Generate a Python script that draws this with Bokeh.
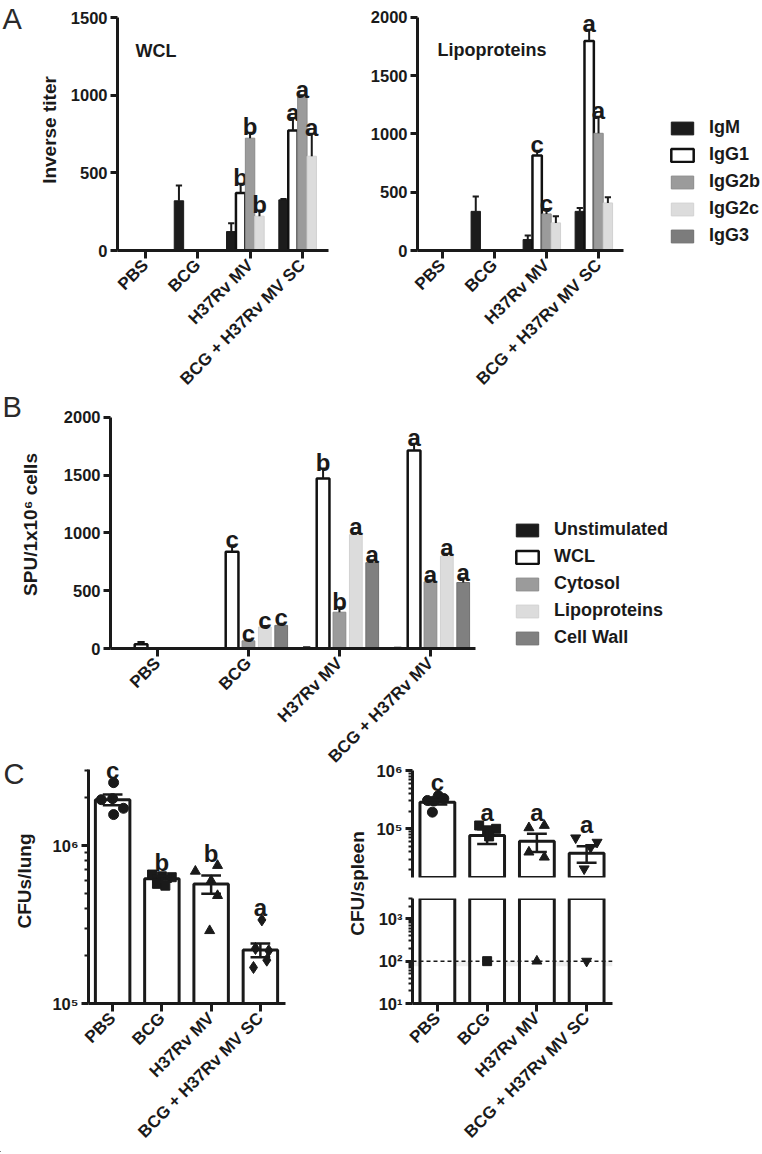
from math import pi, log10

from bokeh.core.properties import value
from bokeh.embed import file_html
from bokeh.layouts import column, row
from bokeh.models import (BoxAnnotation, ColumnDataSource, FixedTicker, Label,
                          Legend, LegendItem, Range1d, Span)
from bokeh.plotting import figure
from bokeh.resources import INLINE

# ------------------------------------------------------------------ data
# Panel A: antibody isotype titers
groups_a = ["PBS", "BCG", "H37Rv MV", "BCG + H37Rv MV SC"]
isotypes = ["IgM", "IgG1", "IgG2b", "IgG2c", "IgG3"]

wcl_igm = [0, 320, 122, 326]
wcl_igg1 = [0, 0, 370, 773]
wcl_igg2b = [0, 0, 723, 988]
wcl_igg2c = [0, 0, 221, 607]
wcl_igg3 = [0, 0, 0, 0]
wcl_igm_err = [0, 98, 54, 5]
wcl_igg1_err = [0, 0, 60, 80]
wcl_igg2b_err = [0, 0, 35, 11]
wcl_igg2c_err = [0, 0, 36, 144]
wcl_igg3_err = [0, 0, 0, 0]
wcl_igm_sig = ["", "", "", ""]
wcl_igg1_sig = ["", "", "b", "a"]
wcl_igg2b_sig = ["", "", "b", "a"]
wcl_igg2c_sig = ["", "", "b", "a"]
wcl_igg3_sig = ["", "", "", ""]

lipo_igm = [0, 336, 94, 336]
lipo_igg1 = [0, 0, 815, 1797]
lipo_igg2b = [0, 0, 314, 1006]
lipo_igg2c = [0, 0, 237, 408]
lipo_igg3 = [0, 0, 0, 0]
lipo_igm_err = [0, 128, 34, 29]
lipo_igg1_err = [0, 0, 42, 98]
lipo_igg2b_err = [0, 0, 42, 142]
lipo_igg2c_err = [0, 0, 56, 48]
lipo_igg3_err = [0, 0, 0, 0]
lipo_igm_sig = ["", "", "", ""]
lipo_igg1_sig = ["", "", "c", "a"]
lipo_igg2b_sig = ["", "", "c", "a"]
lipo_igg2c_sig = ["", "", "", ""]
lipo_igg3_sig = ["", "", "", ""]

# Panel B: ELISPOT
groups_b = ["PBS", "BCG", "H37Rv MV", "BCG + H37Rv MV"]
stimuli = ["Unstimulated", "WCL", "Cytosol", "Lipoproteins", "Cell Wall"]
spu_unstim = [0, 0, 8, 5]
spu_wcl = [37, 837, 1471, 1714]
spu_cytosol = [3, 66, 314, 577]
spu_lipo = [3, 186, 985, 800]
spu_cellwall = [3, 200, 743, 571]
spu_unstim_err = [0, 0, 2, 1]
spu_wcl_err = [20, 57, 86, 57]
spu_cytosol_err = [0, 11, 43, 14]
spu_lipo_err = [0, 8, 15, 20]
spu_cellwall_err = [0, 14, 20, 37]
spu_unstim_sig = ["", "", "", ""]
spu_wcl_sig = ["", "c", "b", "a"]
spu_cytosol_sig = ["", "c", "b", "a"]
spu_lipo_sig = ["", "c", "a", "a"]
spu_cellwall_sig = ["", "c", "a", "a"]

# Panel C: bacterial burden
groups_c = ["PBS", "BCG", "H37Rv MV", "BCG + H37Rv MV SC"]
lung_pbs = [2.5e6, 1.95e6, 1.98e6, 1.72e6, 1.57e6]
lung_bcg = [6.55e5, 6.38e5, 6.3e5, 5.72e5, 5.57e5]
lung_h37 = [6.87e5, 7.47e5, 6.0e5, 4.82e5, 2.89e5]
lung_sc = [3.38e5, 2.23e5, 2.16e5, 1.69e5, 1.88e5]
lung_mean = [1.95e6, 6.15e5, 5.71e5, 2.18e5]
lung_sem = [1.5e5, 2.5e4, 7.6e4, 2.2e4]
lung_sig = ["c", "b", "b", "a"]

spleen_pbs = [3.7e5, 3.3e5, 3.06e5, 3.0e5, 1.93e5]
spleen_bcg = [1.14e5, 9.4e4, 1.0e5, 7.4e4, 100]
spleen_h37 = [1.04e5, 1.14e5, 3.98e4, 3.26e4, 100]
spleen_sc = [7.0e4, 5.9e4, 4.8e4, 2.06e4, 100]
spleen_mean = [2.86e5, 7.67e4, 6.1e4, 3.82e4]
spleen_sem = [2.5e4, 2.2e4, 2.1e4, 1.2e4]
spleen_sig = ["c", "a", "a", "a"]
detection_limit = 100

# ------------------------------------------------------------------ layout / style
FONT = "Liberation Sans"
INK = "#1a1a1a"
PAGE_W, PAGE_H = 760, 1152

# horizontal spread of the dots inside each bar
lung_spread = [[0.02, -0.23, 0.0, 0.22, 0.02], [-0.2, 0.0, 0.2, -0.1, 0.07],
               [-0.32, 0.13, 0.0, 0.13, -0.03], [0.03, -0.1, 0.17, -0.14, 0.13]]
spleen_spread = [[0.02, 0.13, -0.2, -0.07, -0.1], [-0.16, 0.0, 0.18, 0.04, 0.0],
                 [-0.16, 0.15, -0.16, 0.15, 0.0], [-0.22, 0.21, 0.08, -0.05, 0.0]]
lung_markers = [("circle", 10), ("square", 9), ("triangle", 10), ("diamond", 12)]
spleen_markers = [("circle", 10), ("square", 9), ("triangle", 10), ("inverted_triangle", 10)]

iso_styles = [
    dict(fill_color="#1c1c1c", line_color="#1c1c1c", line_width=1),
    dict(fill_color="white", line_color="#111111", line_width=2.5),
    dict(fill_color="#9b9b9b", line_color="#8a8a8a", line_width=1),
    dict(fill_color="#dcdcdc", line_color="#d2d2d2", line_width=1),
    dict(fill_color="#7c7c7c", line_color="#6e6e6e", line_width=1),
]
stim_styles = [
    dict(fill_color="#1c1c1c", line_color="#1c1c1c", line_width=1),
    dict(fill_color="white", line_color="#111111", line_width=2.5),
    dict(fill_color="#9b9b9b", line_color="#8a8a8a", line_width=1),
    dict(fill_color="#dcdcdc", line_color="#d2d2d2", line_width=1),
    dict(fill_color="#808080", line_color="#707070", line_width=1),
]
offsets5 = [-0.36, -0.18, 0.0, 0.18, 0.36]
XLAB_SIZE = "17px"
SIG_SIZE = "24px"


def lin_range(lo, hi, px_lo, px_hi, frame_top, frame_bottom):
    s = (px_lo - px_hi) / (hi - lo)
    return (lo - (frame_bottom - px_lo) / s, lo + (px_lo - frame_top) / s)


def log_range(lo, hi, px_lo, px_hi, frame_top, frame_bottom):
    s = (px_lo - px_hi) / (log10(hi) - log10(lo))
    return (10 ** (log10(lo) - (frame_bottom - px_lo) / s),
            10 ** (log10(lo) + (px_lo - frame_top) / s))


def clean(p):
    p.outline_line_color = None
    p.xgrid.visible = False
    p.ygrid.visible = False
    p.background_fill_color = None
    p.border_fill_color = None


def make_fig(canvas, frame, xr, yr, y_log=False, x_axis=True):
    cx, cy, cw, ch = canvas
    fl, ft, fr, fb = frame
    p = figure(width=cw, height=ch, x_range=Range1d(*xr), y_range=Range1d(*yr),
               y_axis_type="log" if y_log else "linear",
               x_axis_location="below" if x_axis else None,
               min_border_left=fl - cx, min_border_right=cx + cw - fr,
               min_border_top=ft - cy, min_border_bottom=cy + ch - fb,
               output_backend="svg", toolbar_location=None)
    clean(p)
    for ax in p.axis:
        ax.axis_line_width = 3
        ax.axis_line_color = INK
        ax.major_tick_line_width = 3
        ax.major_tick_line_color = INK
        ax.major_tick_in = 0
        ax.major_tick_out = 7
        ax.minor_tick_in = 0
        ax.minor_tick_out = 4
        ax.minor_tick_line_width = 2
        ax.minor_tick_line_color = INK
        ax.major_label_text_font = FONT
        ax.major_label_text_font_style = "bold"
        ax.major_label_text_font_size = "16.5px"
        ax.major_label_text_color = INK
        ax.major_label_standoff = 3
        ax.axis_label_text_font = FONT
        ax.axis_label_text_font_style = "bold"
        ax.axis_label_text_font_size = "19px"
        ax.axis_label_text_color = INK
    return p


def set_x(p, labels):
    ax = p.xaxis[0]
    ax.ticker = FixedTicker(ticks=list(range(len(labels))), minor_ticks=[])
    ax.major_label_overrides = {i: lab for i, lab in enumerate(labels)}
    ax.major_label_orientation = pi / 4
    ax.major_tick_out = 8
    ax.major_label_standoff = 4
    ax.major_label_text_font_size = XLAB_SIZE


def set_y(p, ticks, bounds, minor=(), overrides=None, label=None, standoff=10):
    ax = p.yaxis[0]
    ax.ticker = FixedTicker(ticks=list(ticks), minor_ticks=list(minor))
    ax.bounds = bounds
    if overrides:
        ax.major_label_overrides = overrides
    if label:
        ax.axis_label = label
        ax.axis_label_standoff = standoff


def text_label(p, text, x, y, size, style="bold", baseline="alphabetic",
               align="left", angle=0.0, color=INK):
    p.add_layout(Label(x=x, y=y, x_units="screen", y_units="screen", text=text,
                       text_font=FONT, text_font_style=style, text_font_size=size,
                       text_baseline=baseline, text_align=align, angle=angle,
                       text_color=color))


def grouped_bars(p, series, errs, sigs, styles, width, cap):
    for k, (vals, er, sg, st) in enumerate(zip(series, errs, sigs, styles)):
        xs = [i + offsets5[k] for i in range(len(vals))]
        keep = [i for i, v in enumerate(vals) if v > 0]
        src = ColumnDataSource(dict(x=[xs[i] for i in keep], top=[vals[i] for i in keep]))
        p.vbar(x="x", top="top", bottom=0, width=width, source=src, **st)
        ek = [i for i in keep if er[i] > 0]
        xe = [xs[i] for i in ek]
        y0 = [vals[i] for i in ek]
        y1 = [vals[i] + er[i] for i in ek]
        p.segment(x0=xe, y0=y0, x1=xe, y1=y1, line_color=INK, line_width=2)
        p.segment(x0=[x - cap / 2 for x in xe], y0=y1, x1=[x + cap / 2 for x in xe], y1=y1,
                  line_color=INK, line_width=2)
        lk = [i for i in range(len(vals)) if sg[i]]
        if lk:
            p.text(x=[xs[i] for i in lk], y=[vals[i] + er[i] for i in lk],
                   text=[sg[i] for i in lk], text_align="center",
                   text_baseline="alphabetic", y_offset=-6, text_font=value(FONT),
                   text_font_style="bold", text_font_size=SIG_SIZE, text_color=INK)


def cfu_panel(p, points, spread, markers, mean, sem, sig, bottom, letter_gap):
    xs = list(range(len(mean)))
    p.vbar(x=xs, top=mean, bottom=bottom, width=0.7,
           fill_color="white", line_color=INK, line_width=3)
    for k, (pts, sp, (mk, sz)) in enumerate(zip(points, spread, markers)):
        p.scatter(x=[k + d for d in sp], y=pts, marker=mk, size=sz,
                  fill_color=INK, line_color=INK)
    lo = [m - s for m, s in zip(mean, sem)]
    hi = [m + s for m, s in zip(mean, sem)]
    p.segment(x0=xs, y0=lo, x1=xs, y1=hi, line_color=INK, line_width=2.5)
    for ys in (lo, hi):
        p.segment(x0=[x - 0.2 for x in xs], y0=ys, x1=[x + 0.2 for x in xs], y1=ys,
                  line_color=INK, line_width=2.5)
    if sig:
        tops = [max(max(pts), h) for pts, h in zip(points, hi)]
        p.text(x=xs, y=tops, text=sig, text_align="center", text_baseline="alphabetic",
               y_offset=-letter_gap, text_font=value(FONT), text_font_style="bold",
               text_font_size=SIG_SIZE, text_color=INK)


# ------------------------------------------------------------------ Panel A (left: WCL)
cA1, fA1 = (0, 0, 345, 398), (117, 9, 328, 250)
pA1 = make_fig(cA1, fA1, (-0.535, 3.5), lin_range(0, 1500, 250, 17, fA1[1], fA1[3]))
set_x(pA1, groups_a)
set_y(pA1, [0, 500, 1000, 1500], (0, 1500), label="Inverse titer", standoff=8)
grouped_bars(pA1, [wcl_igm, wcl_igg1, wcl_igg2b, wcl_igg2c, wcl_igg3],
             [wcl_igm_err, wcl_igg1_err, wcl_igg2b_err, wcl_igg2c_err, wcl_igg3_err],
             [wcl_igm_sig, wcl_igg1_sig, wcl_igg2b_sig, wcl_igg2c_sig, wcl_igg3_sig],
             iso_styles, 0.18, 0.12)
text_label(pA1, "WCL", 18, 200, "18px")

# ------------------------------------------------------------------ Panel A (right: Lipoproteins)
cA2, fA2 = (345, 0, 415, 398), (417, 9, 623, 251)
pA2 = make_fig(cA2, fA2, (-0.48, 3.48), lin_range(0, 2000, 251, 17, fA2[1], fA2[3]))
set_x(pA2, groups_a)
set_y(pA2, [0, 500, 1000, 1500, 2000], (0, 2000))
grouped_bars(pA2, [lipo_igm, lipo_igg1, lipo_igg2b, lipo_igg2c, lipo_igg3],
             [lipo_igm_err, lipo_igg1_err, lipo_igg2b_err, lipo_igg2c_err, lipo_igg3_err],
             [lipo_igm_sig, lipo_igg1_sig, lipo_igg2b_sig, lipo_igg2c_sig, lipo_igg3_sig],
             iso_styles, 0.18, 0.12)
text_label(pA2, "Lipoproteins", 20, 201, "18px")

# ------------------------------------------------------------------ Panel B
cB, fB = (0, 398, 760, 378), (110, 400, 475, 650)
pB = make_fig(cB, fB, (-0.516, 3.495), lin_range(0, 2000, 650, 417, fB[1], fB[3]))
set_x(pB, groups_b)
set_y(pB, [0, 500, 1000, 1500, 2000], (0, 2000), label="SPU/1x10\u2076 cells", standoff=20)
grouped_bars(pB, [spu_unstim, spu_wcl, spu_cytosol, spu_lipo, spu_cellwall],
             [spu_unstim_err, spu_wcl_err, spu_cytosol_err, spu_lipo_err, spu_cellwall_err],
             [spu_unstim_sig, spu_wcl_sig, spu_cytosol_sig, spu_lipo_sig, spu_cellwall_sig],
             stim_styles, 0.14, 0.08)

# ------------------------------------------------------------------ Panel C (lung)
cC1, fC1 = (0, 756, 372, 396), (88, 758, 285, 1003)
pC1 = make_fig(cC1, fC1, (-0.49, 3.51), log_range(1e5, 1e6, 1003, 845, fC1[1], fC1[3]),
               y_log=True)
set_x(pC1, groups_c)
c1_top = 10 ** (5 + (1003 - 769) / 158.0)
set_y(pC1, [1e5, 1e6], (1e5, c1_top),
      minor=[m * 1e5 for m in range(2, 10)] + [2e6, 3e6],
      overrides={100000: "10\u2075", 1000000: "10\u2076"},
      label="CFUs/lung", standoff=14)
cfu_panel(pC1, [lung_pbs, lung_bcg, lung_h37, lung_sc], lung_spread, lung_markers,
          lung_mean, lung_sem, lung_sig, 1e4, 12)

# ------------------------------------------------------------------ Panel C (spleen, broken axis)
cC2t, fC2t = (372, 756, 388, 131), (412, 758, 612, 877)
yr_t = log_range(1e5, 1e6, 828.3, 770, fC2t[1], fC2t[3])
pC2t = make_fig(cC2t, fC2t, (-0.50, 3.52), yr_t, y_log=True, x_axis=False)
set_y(pC2t, [1e5, 1e6], (yr_t[0], 1e6),
      minor=[m * 1e4 for m in range(2, 10)] + [m * 1e5 for m in range(2, 10)],
      overrides={100000: "10\u2075", 1000000: "10\u2076"})

cC2b, fC2b = (372, 887, 388, 265), (412, 898, 612, 1003)
yr_b = log_range(10, 1000, 1003, 918.3, fC2b[1], fC2b[3])
pC2b = make_fig(cC2b, fC2b, (-0.50, 3.52), yr_b, y_log=True)
set_x(pC2b, groups_c)
set_y(pC2b, [10, 100, 1000], (10, yr_b[1]),
      minor=[m * 10 for m in range(2, 10)] + [m * 100 for m in range(2, 10)] + [2000, 3000],
      overrides={10: "10\u00b9", 100: "10\u00b2", 1000: "10\u00b3"})
pC2b.add_layout(BoxAnnotation(bottom=76, top=detection_limit, fill_color="#eeeeee",
                              fill_alpha=1, line_color=None, level="underlay"))
pC2b.add_layout(Span(location=detection_limit, dimension="width", line_color=INK,
                     line_width=1.5, line_dash="4 3"))

spleen_points = [spleen_pbs, spleen_bcg, spleen_h37, spleen_sc]
cfu_panel(pC2t, spleen_points, spleen_spread, spleen_markers, spleen_mean, spleen_sem,
          spleen_sig, 1, 13)
cfu_panel(pC2b, spleen_points, spleen_spread, spleen_markers, spleen_mean, spleen_sem,
          None, 1, 13)

# ------------------------------------------------------------------ overlay: panel letters, legends
ov = figure(width=PAGE_W, height=PAGE_H, x_range=Range1d(0, PAGE_W), y_range=Range1d(0, PAGE_H),
            x_axis_location=None, y_axis_location=None, min_border_left=0,
            min_border_right=0, min_border_top=0, min_border_bottom=0,
            output_backend="svg", toolbar_location=None, margin=(-PAGE_H, 0, 0, 0))
clean(ov)


def ov_text(text, x, y_top, size, **kw):
    text_label(ov, text, x, PAGE_H - y_top, size, **kw)


ov_text("A", 2, 2, "29px", style="normal", baseline="top", color="#2a2a2a")
ov_text("B", 2, 390, "29px", style="normal", baseline="top", color="#2a2a2a")
ov_text("C", 3, 757, "29px", style="normal", baseline="top", color="#2a2a2a")
ov_text("CFU/spleen", 357, 883, "19px", baseline="middle", align="center", angle=pi / 2)


def ov_legend(names, styles, left, bottom):
    # legend swatches: proxy bars parked far outside the overlay's visible range
    rends = [ov.vbar(x=[-10 * PAGE_W], top=[-10 * PAGE_H], bottom=-11 * PAGE_H, width=1, **st)
             for st in styles]
    ov.add_layout(Legend(
        items=[LegendItem(label=n, renderers=[r]) for n, r in zip(names, rends)],
        location=(left, PAGE_H - bottom), orientation="vertical",
        glyph_width=28, glyph_height=16, label_standoff=13, spacing=6,
        padding=0, margin=0, border_line_color=None, background_fill_alpha=0,
        label_text_font=FONT, label_text_font_style="bold",
        label_text_font_size="18px", label_text_color=INK))


ov_legend(isotypes, iso_styles, 668, 246)
ov_legend(stimuli, stim_styles, 513, 648)

# ------------------------------------------------------------------ page
main = column(
    row(pA1, pA2),
    pB,
    row(pC1, column(pC2t, pC2b), margin=(-20, 0, 0, 0)),
)
layout = column(main, ov)

with open("out.html", "w") as f:
    f.write(file_html(layout, INLINE, title="figure"))
